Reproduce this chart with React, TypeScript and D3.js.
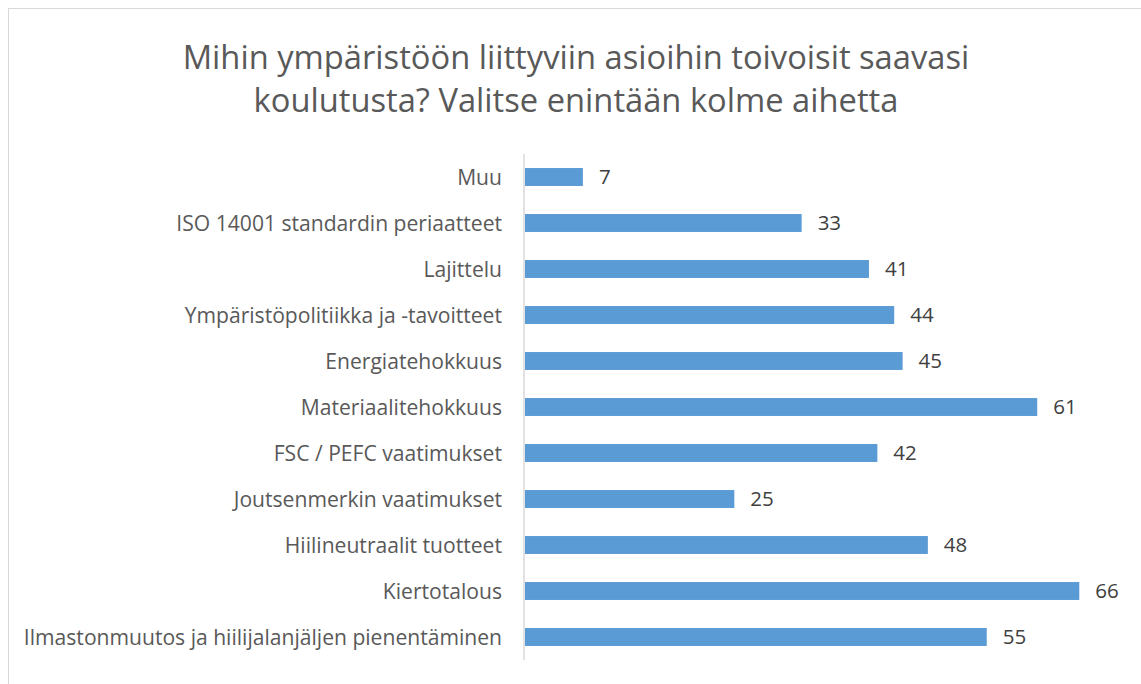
import React from "react";
import * as d3 from "d3";

const categories = [
  "Muu",
  "ISO 14001 standardin periaatteet",
  "Lajittelu",
  "Ympäristöpolitiikka ja -tavoitteet",
  "Energiatehokkuus",
  "Materiaalitehokkuus",
  "FSC / PEFC vaatimukset",
  "Joutsenmerkin vaatimukset",
  "Hiilineutraalit tuotteet",
  "Kiertotalous",
  "Ilmastonmuutos ja hiilijalanjäljen pienentäminen",
];
const values = [7, 33, 41, 44, 45, 61, 42, 25, 48, 66, 55];
const titleLines = [
  "Mihin ympäristöön liittyviin asioihin toivoisit saavasi",
  "koulutusta? Valitse enintään kolme aihetta",
];

const W = 1141;
const H = 684;
const FONT = "'Open Sans', 'Noto Sans', sans-serif";
const TEXT = "#595959";

export default function App() {
  const x0 = 524;
  const x = d3.scaleLinear().domain([0, 66]).range([x0, 1079.3]);
  const y = d3
    .scaleBand<string>()
    .domain(categories)
    .range([154, 660])
    .paddingInner(0.61)
    .paddingOuter(0.305);
  const bh = y.bandwidth();
  return (
    <svg
      width={W}
      height={H}
      style={{ position: "absolute", left: 0, top: 0, background: "#fff" }}
      fontFamily={FONT}
    >
      <rect x={8.5} y={8.5} width={1200} height={700} fill="#fff" stroke="#D9D9D9" />
      {titleLines.map((t, i) => (
        <text
          key={i}
          x={576}
          y={69 + i * 43}
          textAnchor="middle"
          fontSize={32.7}
          fill={TEXT}
        >
          {t}
        </text>
      ))}
      <line x1={x0} x2={x0} y1={154} y2={660} stroke="#D9D9D9" strokeWidth={1.5} />
      {categories.map((c, i) => {
        const yy = y(c)!;
        return (
          <g key={c}>
            <rect
              x={x0 + 1}
              y={yy}
              width={x(values[i]) - x0 - 1}
              height={bh}
              fill="#5B9BD5"
            />
            <text
              x={502}
              y={yy + bh / 2}
              dy="0.36em"
              textAnchor="end"
              fontSize={21.1}
              fill={TEXT}
            >
              {c}
            </text>
            <text
              x={x(values[i]) + 16}
              y={yy + bh / 2}
              dy="0.36em"
              fontSize={20.5}
              fill="#404040"
            >
              {values[i]}
            </text>
          </g>
        );
      })}
    </svg>
  );
}
